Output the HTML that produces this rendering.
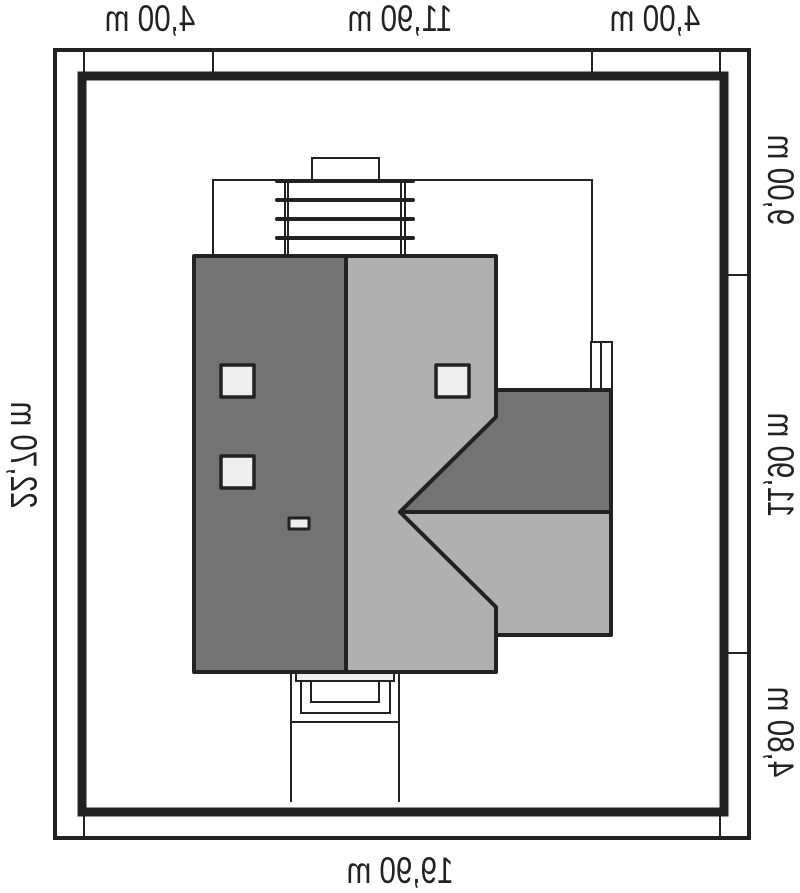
<!DOCTYPE html>
<html><head><style>
html,body{margin:0;padding:0;background:#fff;width:800px;height:893px;overflow:hidden}
.t{position:absolute;font-family:"Liberation Sans Narrow","Liberation Sans",sans-serif;font-size:37px;color:#222;white-space:nowrap;line-height:36px;text-align:center;width:200px;height:36px}
</style></head><body>
<svg width="800" height="893" style="position:absolute;left:0;top:0">
<g fill="none" stroke="#222" stroke-width="2">
<rect x="55" y="50" width="694" height="788" fill="#fff" stroke-width="4"/>
<line x1="84" y1="50" x2="84" y2="838"/>
<line x1="720" y1="50" x2="720" y2="838"/>
<line x1="213" y1="50" x2="213" y2="79"/>
<line x1="592" y1="50" x2="592" y2="79"/>
<line x1="720" y1="275" x2="749" y2="275"/>
<line x1="720" y1="653" x2="749" y2="653"/>
</g>
<rect x="82" y="76" width="642" height="736" fill="#fff" stroke="#222" stroke-width="9"/>
<g fill="none" stroke="#222" stroke-width="2">
<polyline points="213,255 213,180 592,180 592,342"/>
<rect x="312" y="158" width="67" height="22" fill="#fff"/>
<line x1="285" y1="180" x2="285" y2="255"/><line x1="288" y1="180" x2="288" y2="255"/>
<line x1="401" y1="180" x2="401" y2="255"/><line x1="405" y1="180" x2="405" y2="255"/>
<rect x="591" y="342" width="21" height="48" fill="#fff"/>
<line x1="601" y1="342" x2="601" y2="390"/>
<line x1="291" y1="722" x2="291" y2="802"/><line x1="399" y1="722" x2="399" y2="802"/>
<rect x="291" y="673" width="108" height="49" fill="#fff"/>
<rect x="296" y="673" width="98" height="8" fill="#eee"/>
<polyline points="301,681 301,713 390,713 390,681"/>
<polyline points="311,681 311,702 379,702 379,681"/>
</g>
<g stroke="#222" stroke-width="4" stroke-linecap="round">
<line x1="277" y1="181" x2="413" y2="181"/>
<line x1="277" y1="200" x2="413" y2="200"/>
<line x1="277" y1="219" x2="413" y2="219"/>
<line x1="277" y1="238" x2="413" y2="238"/>
</g>
<g stroke="#222" stroke-width="4" stroke-linejoin="round">
<rect x="194" y="256" width="152" height="416" fill="#737373"/>
<polygon points="346,256 496,256 496,417 400,512 496,607 496,672 346,672" fill="#b0b0b0"/>
<polygon points="496,390 611,390 611,512 400,512 496,417" fill="#737373"/>
<polygon points="400,512 611,512 611,635 496,635 496,607" fill="#b0b0b0"/>
<rect x="221" y="365" width="33" height="32" fill="#eee" stroke-width="3.5"/>
<rect x="221" y="456" width="33" height="32" fill="#eee" stroke-width="3.5"/>
<rect x="436" y="365" width="33" height="32" fill="#eee" stroke-width="3.5"/>
<rect x="289" y="518" width="20" height="11" fill="#eee" stroke-width="3"/>
</g>
</svg>
<div class="t" style="left:50px;top:1px;transform:scaleX(-0.8)">4,00 m</div>
<div class="t" style="left:300px;top:1px;transform:scaleX(-0.8)">11,90 m</div>
<div class="t" style="left:555px;top:1px;transform:scaleX(-0.8)">4,00 m</div>
<div class="t" style="left:300px;top:853px;transform:scaleX(-0.8)">19,90 m</div>
<div class="t" style="left:680px;top:162px;transform:rotate(90deg) scaleX(-0.8)">9,00 m</div>
<div class="t" style="left:680px;top:447px;transform:rotate(90deg) scaleX(-0.8)">11,90 m</div>
<div class="t" style="left:680px;top:714px;transform:rotate(90deg) scaleX(-0.8)">4,80 m</div>
<div class="t" style="left:-77px;top:437px;transform:rotate(90deg) scaleX(-0.8)">22,70 m</div>
</body></html>
